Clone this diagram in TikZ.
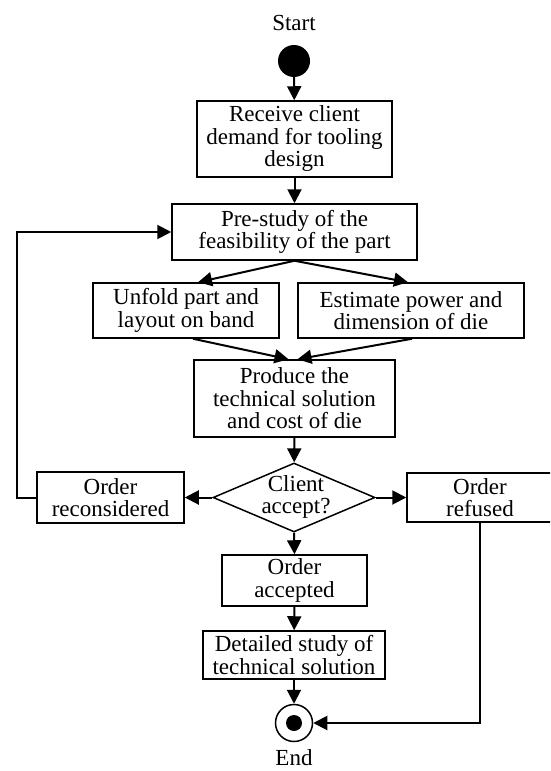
\documentclass[tikz,border=0pt]{standalone}
\usepackage{fontspec}
\setmainfont{Liberation Serif}
\usetikzlibrary{arrows.meta,shapes.geometric,calc}
\begin{document}
\begin{tikzpicture}[x=1pt,y=-1pt,
  font=\fontsize{23}{22.5}\selectfont,
  box/.style={draw,line width=1.5pt,rectangle,align=center,inner sep=0pt},
  conn/.style={line width=2pt,-{Triangle[length=14pt,width=14pt]}}]
\clip (0,0) rectangle (550,771);
\node[anchor=base] (starttxt) at (294,30) {Start};
\node[circle,fill=black,minimum size=32pt,inner sep=0pt] (start) at (294,61) {};
\node[box,minimum width=195pt,minimum height=76pt] (recv) at (294.5,139) {Receive client\\demand for tooling\\design};
\node[box,minimum width=245pt,minimum height=56pt] (pre) at (294.5,232) {Pre-study of the\\feasibility of the part};
\node[box,minimum width=186pt,minimum height=55pt] (unfold) at (186,310.5) {Unfold part and\\layout on band};
\node[box,minimum width=226pt,minimum height=55pt] (est) at (411,310.5) {Estimate power and\\dimension of die};
\node[box,minimum width=201pt,minimum height=77pt] (prod) at (294.5,398.5) {Produce the\\technical solution\\and cost of die};
\node[diamond,draw,line width=1.5pt,minimum width=162pt,minimum height=69pt,inner sep=0pt,align=center] (dec) at (294,497.5) {};
\node[align=center] (dectxt) at (296,497) {Client\\accept?};
\node[box,minimum width=147pt,minimum height=51pt] (recon) at (110.5,497.5) {Order\\reconsidered};
\node[box,minimum width=146pt,minimum height=49pt] (refused) at (480,497.5) {Order\\refused};
\node[box,minimum width=145pt,minimum height=51pt] (acc) at (294.5,580.5) {Order\\accepted};
\node[box,minimum width=182pt,minimum height=48pt] (det) at (294,655) {Detailed study of\\technical solution};
\node[circle,draw,line width=1.5pt,minimum size=37pt,inner sep=0pt] (end) at (294,723) {};
\node[circle,fill=black,minimum size=16pt,inner sep=0pt] (enddot) at (294,723) {};
\node[anchor=base] (endtxt) at (294,765) {End};
\coordinate (fbl) at (17,497.5);
\coordinate (fbu) at (17,232);
\coordinate (refc) at (480,723);
\draw[conn] (start) -- (recv);
\draw[conn] (recv) -- (pre);
\draw[conn] (pre.south) -- ([xshift=12pt]unfold.north);
\draw[conn] (pre.south) -- ([xshift=-3pt]est.north);
\draw[conn] ([xshift=7pt]unfold.south) -- ([xshift=-6pt]prod.north);
\draw[conn] ([xshift=1pt]est.south) -- ([xshift=3pt]prod.north);
\draw[conn] (prod) -- (dec);
\draw[conn] (dec.west) -- (recon.east);
\draw[conn] (dec.east) -- (refused.west);
\draw[conn] (dec.south) -- (acc.north);
\draw[conn] (acc) -- (det);
\draw[conn] (det) -- (end);
\draw[conn] (recon.west) -- (fbl) -- (fbu) -- (pre.west);
\draw[conn] (refused.south) -- (refc) -- (end.east);
\end{tikzpicture}
\end{document}
